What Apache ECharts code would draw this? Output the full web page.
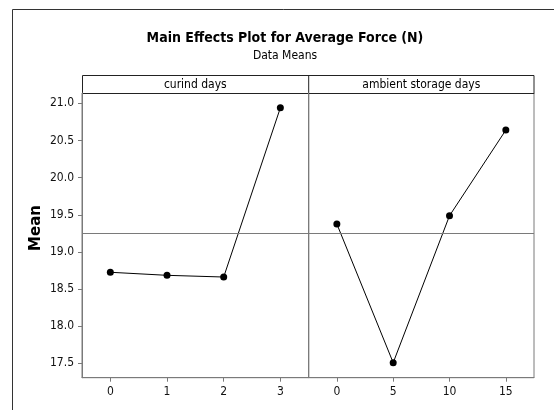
<!DOCTYPE html>
<html>
<head>
<meta charset="utf-8">
<script src="https://cdn.jsdelivr.net/npm/echarts@6/dist/echarts.min.js"></script>
<style>
html,body{margin:0;padding:0;background:#fff;}
#chart{width:554px;height:410px;}
</style>
</head>
<body>
<div id="chart"></div>
<script>
// ---- data ----
var curingDays = ['0', '1', '2', '3'];
var curingMeans = [18.726, 18.685, 18.662, 20.94];
var storageDays = ['0', '5', '10', '15'];
var storageMeans = [19.376, 17.509, 19.487, 20.64];
var yTicks = [17.5, 18.0, 18.5, 19.0, 19.5, 20.0, 20.5, 21.0];
var panelTitles = ['curind days', 'ambient storage days'];
var chartTitle = 'Main Effects Plot for Average Force (N)';
var chartSubtitle = 'Data Means';
var yName = 'Mean';

var allVals = curingMeans.concat(storageMeans);
var grandMean = allVals.reduce(function (a, b) { return a + b; }, 0) / allVals.length;

var FONT = '"DejaVu Sans Condensed", "DejaVu Sans", sans-serif';
var GRAY = '#7a7a7a';
var yMin = 17.307, yMax = 21.139;

var chart = echarts.init(document.getElementById('chart'), null, {renderer: 'canvas'});

function yAxisCfg(idx, showLabels) {
  return {
    type: 'value', gridIndex: idx, min: yMin, max: yMax,
    axisLine: {show: true, lineStyle: {color: GRAY, width: 1}},
    axisTick: {show: showLabels, length: 4, customValues: yTicks, lineStyle: {color: GRAY}},
    axisLabel: {show: showLabels, customValues: yTicks, margin: 8, color: '#111', fontFamily: FONT, fontSize: 12,
      formatter: function (v) { return v.toFixed(1); }},
    splitLine: {show: false}
  };
}
function xAxisCfg(idx, cats) {
  return {
    type: 'category', gridIndex: idx, data: cats, boundaryGap: true,
    axisLine: {show: true, lineStyle: {color: GRAY, width: 1}},
    axisTick: {show: true, alignWithLabel: true, length: 4, lineStyle: {color: GRAY}},
    axisLabel: {margin: 8, color: '#111', fontFamily: FONT, fontSize: 12},
    splitLine: {show: false}
  };
}
function seriesCfg(idx, vals) {
  return {
    type: 'line', xAxisIndex: idx, yAxisIndex: idx, data: vals,
    symbol: 'circle', symbolSize: 7, showSymbol: true,
    itemStyle: {color: '#000'}, lineStyle: {color: '#000', width: 1},
    animation: false,
    markLine: {
      silent: true, symbol: 'none', label: {show: false},
      lineStyle: {color: GRAY, width: 1, type: 'solid'},
      data: [{yAxis: grandMean}], animation: false
    }
  };
}

var option = {
  animation: false,
  backgroundColor: '#fff',
  grid: [
    {left: 82, top: 93, width: 226.7, height: 284.7, show: true, borderColor: GRAY, borderWidth: 1},
    {left: 308.7, top: 93, width: 225.3, height: 284.7, show: true, borderColor: GRAY, borderWidth: 1}
  ],
  xAxis: [xAxisCfg(0, curingDays), xAxisCfg(1, storageDays)],
  yAxis: [yAxisCfg(0, true), yAxisCfg(1, false)],
  series: [seriesCfg(0, curingMeans), seriesCfg(1, storageMeans)],
  graphic: [
    {type: 'rect', shape: {x: 12.5, y: 9.5, width: 700, height: 600}, style: {fill: null, stroke: '#333', lineWidth: 1}, z: -10},
    {type: 'text', x: 285, y: 38, style: {text: chartTitle, font: 'bold 14px ' + FONT, fill: '#000', textAlign: 'center', textVerticalAlign: 'middle'}},
    {type: 'text', x: 285, y: 56, style: {text: chartSubtitle, font: '12px ' + FONT, fill: '#000', textAlign: 'center', textVerticalAlign: 'middle'}},
    {type: 'rect', shape: {x: 82.5, y: 75.5, width: 451.5, height: 18}, style: {fill: '#fff', stroke: '#222', lineWidth: 1}},
    {type: 'line', shape: {x1: 308.7, y1: 75.5, x2: 308.7, y2: 93}, style: {stroke: '#222', lineWidth: 1}},
    {type: 'text', x: 195.3, y: 84.5, style: {text: panelTitles[0], font: '12px ' + FONT, fill: '#000', textAlign: 'center', textVerticalAlign: 'middle'}},
    {type: 'text', x: 421.3, y: 84.5, style: {text: panelTitles[1], font: '12px ' + FONT, fill: '#000', textAlign: 'center', textVerticalAlign: 'middle'}},
    {type: 'text', x: 36, y: 228, rotation: Math.PI / 2, style: {text: yName, font: 'bold 15px "DejaVu Sans", sans-serif', fill: '#000', textAlign: 'center', textVerticalAlign: 'middle'}}
  ]
};
chart.setOption(option);
</script>
</body>
</html>
